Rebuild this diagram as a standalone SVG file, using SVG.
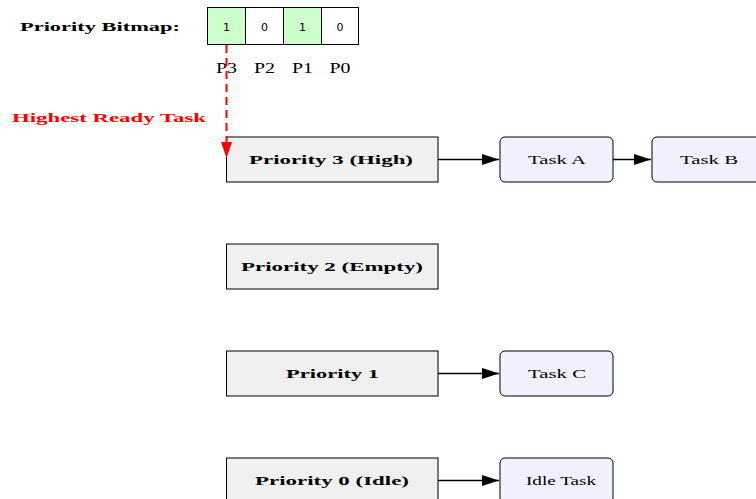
<svg xmlns="http://www.w3.org/2000/svg" width="756" height="499" viewBox="0 0 756 499">
<style>
.pri rect{fill:#f0f0f0;stroke:#000;stroke-width:1}
.task rect{fill:#f0f0ff;stroke:#000;stroke-width:1}
.bl{font-family:"Liberation Serif","DejaVu Serif",serif;font-weight:bold;font-size:13.5px;text-anchor:middle}
.tl{font-family:"Liberation Serif","DejaVu Serif",serif;font-size:13.5px;text-anchor:middle}
.cell{stroke:#000;stroke-width:1}
.bit{font-family:"DejaVu Sans",sans-serif;font-size:11px;text-anchor:middle}
.pl{font-family:"Liberation Serif","DejaVu Serif",serif;font-size:14px;text-anchor:middle}
.conn line{stroke:#000;stroke-width:1.6;marker-end:url(#ah)}
</style>
<defs>
<marker id="ah" markerWidth="17" markerHeight="11" refX="17" refY="5.5" orient="auto" markerUnits="userSpaceOnUse"><path d="M0,0 L17,5.5 L0,11 Z" fill="#000"/></marker>
</defs>
<rect width="756" height="499" fill="#fff"/>
<g id="bitmap">
<text x="100" y="30.5" class="bl" textLength="160" lengthAdjust="spacingAndGlyphs">Priority Bitmap:</text>
<rect class="cell" x="207.5" y="7.5" width="38" height="37" fill="#ccffcc"/>
<rect class="cell" x="245.5" y="7.5" width="38" height="37" fill="#fff"/>
<rect class="cell" x="283.5" y="7.5" width="38" height="37" fill="#ccffcc"/>
<rect class="cell" x="321.5" y="7.5" width="37" height="37" fill="#fff"/>
<text x="226.5" y="30.5" class="bit">1</text>
<text x="264.5" y="30.5" class="bit">0</text>
<text x="302.5" y="30.5" class="bit">1</text>
<text x="340" y="30.5" class="bit">0</text>
<text x="226.5" y="73" class="pl" textLength="21" lengthAdjust="spacingAndGlyphs">P3</text>
<text x="264.5" y="73" class="pl" textLength="21" lengthAdjust="spacingAndGlyphs">P2</text>
<text x="302.5" y="73" class="pl" textLength="21" lengthAdjust="spacingAndGlyphs">P1</text>
<text x="340" y="73" class="pl" textLength="21" lengthAdjust="spacingAndGlyphs">P0</text>
</g>
<g id="p3" class="pri"><rect x="226.5" y="137" width="211.5" height="45"/><text x="331" y="163.5" class="bl" textLength="164" lengthAdjust="spacingAndGlyphs">Priority 3 (High)</text></g>
<g id="p2" class="pri"><rect x="226.5" y="244" width="211.5" height="45"/><text x="332" y="270.5" class="bl" textLength="182" lengthAdjust="spacingAndGlyphs">Priority 2 (Empty)</text></g>
<g id="p1" class="pri"><rect x="226.5" y="351" width="211.5" height="45"/><text x="332.5" y="377.5" class="bl" textLength="93" lengthAdjust="spacingAndGlyphs">Priority 1</text></g>
<g id="p0" class="pri"><rect x="226.5" y="458" width="211.5" height="45"/><text x="332" y="484.5" class="bl" textLength="154" lengthAdjust="spacingAndGlyphs">Priority 0 (Idle)</text></g>
<g id="taskA" class="task"><rect x="500" y="137" width="113" height="45" rx="5"/><text x="557" y="163.5" class="tl" textLength="58" lengthAdjust="spacingAndGlyphs">Task A</text></g>
<g id="taskB" class="task"><rect x="652" y="137" width="113" height="45" rx="5"/><text x="709" y="163.5" class="tl" textLength="58" lengthAdjust="spacingAndGlyphs">Task B</text></g>
<g id="taskC" class="task"><rect x="500" y="351" width="113" height="45" rx="5"/><text x="557" y="377.5" class="tl" textLength="58" lengthAdjust="spacingAndGlyphs">Task C</text></g>
<g id="idle" class="task"><rect x="500" y="458" width="113" height="45" rx="5"/><text x="561" y="484.5" class="tl" textLength="70" lengthAdjust="spacingAndGlyphs">Idle Task</text></g>
<g id="connectors">
<g class="conn">
<line x1="438" y1="159.5" x2="499" y2="159.5"/>
<line x1="613" y1="159.5" x2="651" y2="159.5"/>
<line x1="438" y1="373.5" x2="499" y2="373.5"/>
<line x1="438" y1="480.5" x2="499" y2="480.5"/>
</g>
<line x1="226.5" y1="45" x2="226.5" y2="143" stroke="#f00" stroke-width="2" stroke-dasharray="8,5"/>
<path d="M221,142 L232,142 L226.5,158 Z" fill="#f00"/>
<text x="109" y="121.5" class="bl" fill="#f00" textLength="194" lengthAdjust="spacingAndGlyphs">Highest Ready Task</text>
</g>
</svg>
